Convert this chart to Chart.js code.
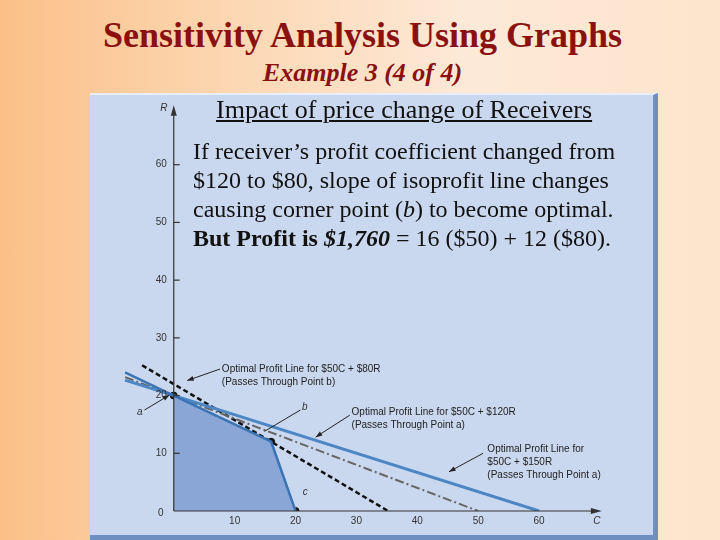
<!DOCTYPE html>
<html><head><meta charset="utf-8">
<script src="https://cdn.jsdelivr.net/npm/chart.js@4"></script>
<style>
body{margin:0;width:720px;height:540px;overflow:hidden;background:linear-gradient(to right,#fbc088 0%,#fcd9b6 35%,#fde9d8 65%,#fde4cc 100%);position:relative;font-family:"Liberation Serif","Times New Roman",serif}
#t{position:absolute;top:14px;left:0;width:725px;text-align:center;font-size:36px;font-weight:bold;color:#8b1010;}
#s{position:absolute;top:58px;left:0;width:725px;text-align:center;font-size:26px;font-style:italic;font-weight:bold;color:#8b1010;}
#p{position:absolute;left:90px;top:93px;width:563px;height:440px;background:#cad8ef;border-right:5px solid #6f8fc0;border-bottom:5px solid #6f8fc0;border-top:2px solid #e8eefa;}
#c{position:absolute;left:0;top:0}
#h{position:absolute;left:216px;top:95px;font-size:26px;text-decoration:underline;color:#111;white-space:nowrap}
#b{position:absolute;left:193px;top:137px;font-size:24px;line-height:29px;color:#111;white-space:nowrap}
</style></head><body>
<div id="t">Sensitivity Analysis Using Graphs</div>
<div id="s">Example 3 (4 of 4)</div>
<div id="p"><canvas id="c" width="563" height="440"></canvas></div>
<div id="h">Impact of price change of Receivers</div>
<div id="b">If receiver’s profit coefficient changed from<br>$120 to $80, slope of isoprofit line changes<br>causing corner point (<i>b</i>) to become optimal.<br><b>But Profit is <i>$1,760</i> </b> = 16 ($50) + 12 ($80).</div>
<script>
const xTicks=[10,20,30,40,50,60];
const yTicks=[10,20,30,40,50,60];
const feasible=[{x:0,y:20},{x:16,y:12},{x:20,y:0}];
const constraintExt=[{x:-8,y:24},{x:0,y:20}];
const line150=[{x:-8,y:22.67},{x:60,y:0}];
const line120=[{x:-8,y:23.2},{x:50,y:0}];
const line80=[{x:-5.2,y:25.25},{x:35.2,y:0}];
const corners=[{x:0,y:20},{x:16,y:12},{x:20,y:0}];
const notes=[
 {x:7.9,y:25.5,lines:["Optimal Profit Line for $50C + $80R","(Passes Through Point b)"],from:[7.6,24.6],to:[2.2,22.6]},
 {x:29.2,y:17.9,lines:["Optimal Profit Line for $50C + $120R","(Passes Through Point a)"],from:[28.9,16.6],to:[23.3,12.8]},
 {x:51.5,y:11.5,lines:["Optimal Profit Line for","$50C + $150R","(Passes Through Point a)"],from:[50.8,10],to:[45.2,6.8]}
];
const plug={id:'deco',afterDatasetsDraw(ch){
 const c=ch.ctx,X=ch.scales.x,Y=ch.scales.y;const px=v=>X.getPixelForValue(v),py=v=>Y.getPixelForValue(v);
 c.save();c.strokeStyle='#333';c.fillStyle='#333';c.lineWidth=1.2;
 c.beginPath();c.moveTo(px(0),py(0));c.lineTo(px(0),py(69));c.moveTo(px(0),py(0));c.lineTo(px(69),py(0));c.stroke();
 c.beginPath();c.moveTo(px(0),py(70.3));c.lineTo(px(0)-3,py(68.5));c.lineTo(px(0)+3,py(68.5));c.fill();
 c.beginPath();c.moveTo(px(70.3),py(0));c.lineTo(px(68.5),py(0)-3);c.lineTo(px(68.5),py(0)+3);c.fill();
 c.font='10px "Liberation Sans",Arial';c.fillStyle='#333';
 c.textAlign='right';c.textBaseline='middle';
 yTicks.forEach(v=>{c.beginPath();c.moveTo(px(0),py(v));c.lineTo(px(0)+6,py(v));c.stroke();c.fillText(String(v),px(0)-7,py(v));});
 c.textAlign='center';c.textBaseline='top';
 xTicks.forEach(v=>{c.fillText(String(v),px(v),py(0)+5);});
 c.fillText('0',px(0)-13,py(0)-3);
 c.font='italic 10px "Liberation Sans",Arial';c.fillText('C',px(69.5),py(0)+5);
 c.textBaseline='middle';c.fillText('R',px(0)-10,py(69.8));
 c.fillText('a',px(-5.6),py(17.2));c.fillText('b',px(21.5),py(18));c.fillText('c',px(21.6),py(3.3));
 c.font='10px "Liberation Sans",Arial';c.textAlign='left';c.textBaseline='top';c.fillStyle='#222';
 notes.forEach(n=>{n.lines.forEach((t,i)=>c.fillText(t,px(n.x),py(n.y)+i*13));});
 const arr=(a,b,d)=>{const x1=px(a[0]),y1=py(a[1]),x2=px(b[0]),y2=py(b[1]);c.beginPath();c.moveTo(x1,y1);c.lineTo(x2,y2);c.stroke();
  if(d){const an=Math.atan2(y2-y1,x2-x1);c.beginPath();c.moveTo(x2,y2);c.lineTo(x2-7*Math.cos(an-0.35),y2-7*Math.sin(an-0.35));c.lineTo(x2-7*Math.cos(an+0.35),y2-7*Math.sin(an+0.35));c.fill();}};
 c.strokeStyle='#222';c.fillStyle='#222';c.lineWidth=1;
 notes.forEach(n=>arr(n.from,n.to,true));
 arr([-4.8,17.5],[-0.7,20.1],true);
 arr([20.8,17.5],[14.9,13.8],false);
 c.restore();}};
new Chart(document.getElementById('c'),{type:'scatter',
 data:{datasets:[
  {data:feasible,showLine:true,fill:'origin',backgroundColor:'#8aa6d6',borderColor:'#3a74b4',borderWidth:2.5,pointRadius:0},
  {data:constraintExt,showLine:true,borderColor:'#3a74b4',borderWidth:2.5,pointRadius:0},
  {data:line150,showLine:true,borderColor:'#4c86c4',borderWidth:3,pointRadius:0},
  {data:line120,showLine:true,borderColor:'#666',borderWidth:2,borderDash:[9,3,2,3],pointRadius:0},
  {data:line80,showLine:true,borderColor:'#111',borderWidth:2.5,borderDash:[5,3],pointRadius:0},
  {data:corners,showLine:false,pointRadius:3.5,backgroundColor:'#111',borderColor:'#111'}
 ]},
 options:{responsive:false,animation:false,events:[],
  layout:{padding:{left:32,right:53,top:12,bottom:24}},
  plugins:{legend:{display:false},tooltip:{enabled:false}},
  scales:{x:{type:'linear',min:-8.5,max:70,display:false},y:{type:'linear',min:0,max:70,display:false}}},
 plugins:[plug]});
</script></body></html>
